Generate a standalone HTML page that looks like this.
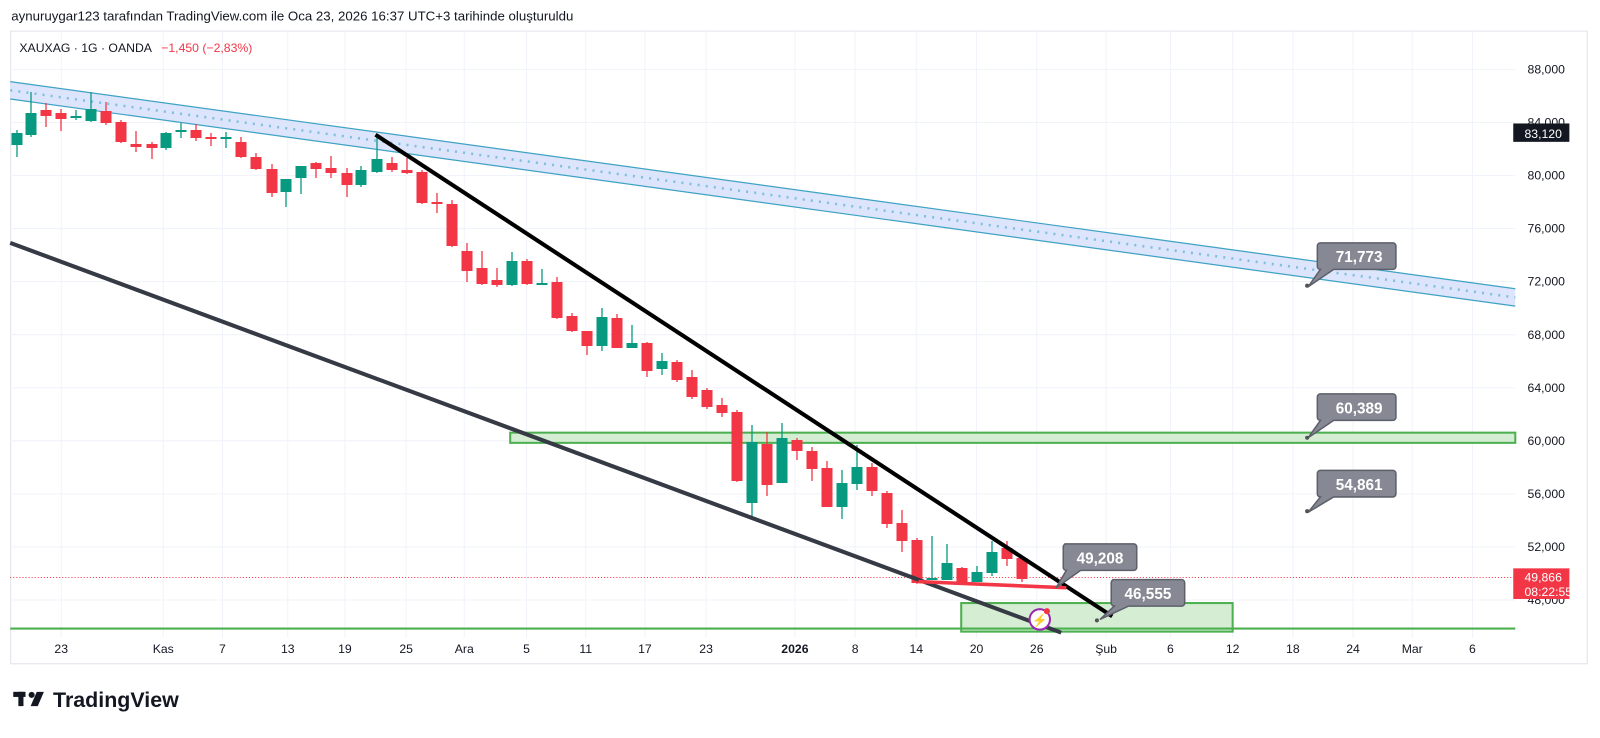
<!DOCTYPE html>
<html><head><meta charset="utf-8"><style>
body{margin:0;background:#fff;width:1600px;height:733px;overflow:hidden;font-family:"Liberation Sans",sans-serif;}
svg text{font-family:"Liberation Sans",sans-serif;}
</style></head><body>
<svg width="1600" height="733" viewBox="0 0 1600 733" xmlns="http://www.w3.org/2000/svg">
<rect width="1600" height="733" fill="#fff"/>
<g transform="scale(1.0204)">
<text x="11" y="20" font-size="13" fill="#131722">aynuruygar123 tarafından TradingView.com ile Oca 23, 2026 16:37 UTC+3 tarihinde oluşturuldu</text>
<rect x="10.5" y="30.5" width="1545" height="620" fill="#fff" stroke="#e0e3eb"/>
<g stroke="#f0f3fa" stroke-width="1">
<line x1="10" y1="68" x2="1485" y2="68"/><line x1="10" y1="120" x2="1485" y2="120"/><line x1="10" y1="172" x2="1485" y2="172"/><line x1="10" y1="224" x2="1485" y2="224"/><line x1="10" y1="276" x2="1485" y2="276"/><line x1="10" y1="328" x2="1485" y2="328"/><line x1="10" y1="380" x2="1485" y2="380"/><line x1="10" y1="432" x2="1485" y2="432"/><line x1="10" y1="484" x2="1485" y2="484"/><line x1="10" y1="536" x2="1485" y2="536"/><line x1="10" y1="588" x2="1485" y2="588"/>
<line x1="60" y1="30" x2="60" y2="625"/><line x1="160" y1="30" x2="160" y2="625"/><line x1="218" y1="30" x2="218" y2="625"/><line x1="282" y1="30" x2="282" y2="625"/><line x1="338" y1="30" x2="338" y2="625"/><line x1="398" y1="30" x2="398" y2="625"/><line x1="455" y1="30" x2="455" y2="625"/><line x1="516" y1="30" x2="516" y2="625"/><line x1="574" y1="30" x2="574" y2="625"/><line x1="632" y1="30" x2="632" y2="625"/><line x1="692" y1="30" x2="692" y2="625"/><line x1="779" y1="30" x2="779" y2="625"/><line x1="838" y1="30" x2="838" y2="625"/><line x1="898" y1="30" x2="898" y2="625"/><line x1="957" y1="30" x2="957" y2="625"/><line x1="1016" y1="30" x2="1016" y2="625"/><line x1="1084" y1="30" x2="1084" y2="625"/><line x1="1147" y1="30" x2="1147" y2="625"/><line x1="1208" y1="30" x2="1208" y2="625"/><line x1="1267" y1="30" x2="1267" y2="625"/><line x1="1326" y1="30" x2="1326" y2="625"/><line x1="1384" y1="30" x2="1384" y2="625"/><line x1="1443" y1="30" x2="1443" y2="625"/>
</g>
<polygon points="10,80 1485,283 1485,300 10,97" fill="#d6e0fa" fill-opacity="0.85"/>
<line x1="10" y1="80" x2="1485" y2="283" stroke="#3fa2c4" stroke-width="1.2"/>
<line x1="10" y1="97" x2="1485" y2="300" stroke="#3fa2c4" stroke-width="1.2"/>
<line x1="10" y1="88.5" x2="1485" y2="291.5" stroke="#7fc0dc" stroke-width="2.5" stroke-dasharray="2,6"/>
<rect x="500" y="424" width="985" height="10" fill="#d5eed3" stroke="#4caf50" stroke-width="2"/>
<rect x="942" y="591" width="266" height="28" fill="#d5eed3" stroke="#4caf50" stroke-width="2"/>
<line x1="10" y1="616" x2="1485" y2="616" stroke="#4caf50" stroke-width="2"/>
<line x1="10" y1="566" x2="1485" y2="566" stroke="#f23645" stroke-width="1" stroke-dasharray="1,2"/>
<g id="candles" transform="scale(0.98)"></g>
<line x1="10" y1="238" x2="1040" y2="620" stroke="#363a45" stroke-width="4"/>
<line x1="368" y1="132" x2="1090" y2="604" stroke="#000" stroke-width="4"/>
<line x1="900" y1="570" x2="1045" y2="576" stroke="#f23645" stroke-width="3.5"/>
<g fill="#868993" stroke="#5d606b" stroke-width="1.5">
<path d="M1297,238 h68 a3,3 0 0 1 3,3 v20 a3,3 0 0 1 -3,3 h-58 l-25,17 l12,-17 h0 a3,3 0 0 1 -3,-3 v-20 a3,3 0 0 1 3,-3z"/>
<path d="M1297,386 h68 a3,3 0 0 1 3,3 v20 a3,3 0 0 1 -3,3 h-58 l-25,17 l12,-17 a3,3 0 0 1 -3,-3 v-20 a3,3 0 0 1 3,-3z"/>
<path d="M1297,461 h68 a3,3 0 0 1 3,3 v20 a3,3 0 0 1 -3,3 h-58 l-25,15 l12,-15 a3,3 0 0 1 -3,-3 v-20 a3,3 0 0 1 3,-3z"/>
<path d="M1043,533 h68 a3,3 0 0 1 3,3 v20 a3,3 0 0 1 -3,3 h-52 l-24,17 l10,-17 a3,3 0 0 1 -3,-3 v-20 a3,3 0 0 1 3,-3z"/>
<path d="M1090,568 h68 a3,3 0 0 1 3,3 v20 a3,3 0 0 1 -3,3 h-52 l-28,13 l14,-13 a3,3 0 0 1 -3,-3 v-20 a3,3 0 0 1 3,-3z"/>
</g>
<g fill="#555"><circle cx="1281" cy="280" r="2"/><circle cx="1281" cy="429" r="2"/><circle cx="1281" cy="501" r="2"/><circle cx="1075" cy="608" r="2"/></g>
<g fill="#fff" font-size="15" font-weight="bold" text-anchor="middle">
<text x="1332" y="257">71,773</text><text x="1332" y="405">60,389</text><text x="1332" y="480">54,861</text><text x="1078" y="552">49,208</text><text x="1125" y="587">46,555</text>
</g>
<circle cx="1019" cy="607" r="10" fill="#fff" stroke="#9c27b0" stroke-width="2"/>
<text x="1019" y="612" font-size="12" fill="#9c27b0" text-anchor="middle">⚡</text>
<circle cx="1026" cy="599" r="3" fill="#f23645"/>
<g font-size="12" fill="#131722">
<text x="1497" y="72">88,000</text><text x="1497" y="124">84,000</text><text x="1497" y="176">80,000</text><text x="1497" y="228">76,000</text><text x="1497" y="280">72,000</text><text x="1497" y="332">68,000</text><text x="1497" y="384">64,000</text><text x="1497" y="436">60,000</text><text x="1497" y="488">56,000</text><text x="1497" y="540">52,000</text><text x="1497" y="592">48,000</text>
</g>
<rect x="1483" y="121" width="55" height="18" fill="#131722"/>
<text x="1494" y="135" font-size="12" fill="#fff">83,120</text>
<rect x="1483" y="557" width="55" height="30" fill="#f23645"/>
<text x="1494" y="570" font-size="12" fill="#fff">49,866</text>
<text x="1494" y="584" font-size="12" fill="#fff">08:22:55</text>
<g font-size="12" fill="#131722" text-anchor="middle">
<text x="60" y="640">23</text><text x="160" y="640">Kas</text><text x="218" y="640">7</text><text x="282" y="640">13</text><text x="338" y="640">19</text><text x="398" y="640">25</text><text x="455" y="640">Ara</text><text x="516" y="640">5</text><text x="574" y="640">11</text><text x="632" y="640">17</text><text x="692" y="640">23</text><text x="779" y="640" font-weight="bold">2026</text><text x="838" y="640">8</text><text x="898" y="640">14</text><text x="957" y="640">20</text><text x="1016" y="640">26</text><text x="1084" y="640">Şub</text><text x="1147" y="640">6</text><text x="1208" y="640">12</text><text x="1267" y="640">18</text><text x="1326" y="640">24</text><text x="1384" y="640">Mar</text><text x="1443" y="640">6</text>
</g>
<text x="19" y="51" font-size="12" fill="#131722">XAUXAG · 1G · OANDA</text>
<text x="158" y="51" font-size="12" fill="#f23645">−1,450 (−2,83%)</text>
<g fill="#131722"><rect x="13" y="678" width="12" height="5"/><rect x="18" y="678" width="5" height="14"/><circle cx="31" cy="681" r="3"/><polygon points="36,678 43,678 37,692 30,692"/></g>
<text x="52" y="693" font-size="21" font-weight="bold" fill="#131722">TradingView</text>
</g>
</svg>
<script>
var d=[[17,'g',133,145,130,157],[31,'g',113,135,92,137],[46,'r',110,116,103,127],[61,'r',113,119,109,131],[76,'g',116,118,110,120],[91,'g',109,121,92,122],[106,'r',111,123,102,125],[121,'r',122,142,120,143],[136,'r',144,147,131,152],[152,'r',144,148,142,159],[166,'g',133,148,132,150],[181,'g',130,131,123,138],[196,'r',130,138,124,141],[211,'r',137,138,133,146],[226,'g',137,138,132,148],[241,'r',142,157,137,158],[256,'r',157,169,153,170],[272,'r',169,193,164,197],[286,'g',179,192,179,207],[301,'g',166,178,166,194],[316,'r',163,169,162,178],[331,'r',168,173,156,178],[347,'r',173,185,168,197],[361,'g',170,185,166,187],[377,'g',159,172,135,173],[392,'r',163,170,157,172],[407,'r',170,173,158,174],[422,'r',172,203,170,204],[437,'r',202,204,193,213],[452,'r',204,246,200,247],[467,'r',251,271,243,282],[482,'r',268,284,251,285],[497,'r',280,285,268,287],[512,'g',261,285,252,286],[527,'r',261,284,259,285],[542,'g',283,284,269,284],[557,'r',282,318,277,319],[572,'r',316,331,313,332],[587,'r',331,346,331,355],[602,'g',317,346,308,351],[617,'r',318,348,314,348],[632,'g',343,348,325,348],[647,'r',343,371,342,377],[662,'g',361,369,353,375],[677,'r',362,380,360,382],[692,'r',377,397,370,399],[707,'r',390,407,388,409],[722,'r',405,413,398,417],[737,'r',412,481,410,482],[752,'g',442,503,425,517],[767,'r',444,485,432,496],[782,'g',438,483,423,483],[797,'r',440,451,438,460],[812,'r',451,469,447,481],[827,'r',468,507,461,507],[842,'g',483,507,470,519],[857,'g',467,484,445,490],[872,'r',467,491,463,496],[887,'r',493,524,491,528],[902,'r',523,541,510,552],[917,'r',540,583,538,584],[932,'g',578,580,536,580],[947,'g',563,580,544,580],[962,'r',568,583,567,583],[977,'g',572,582,566,582],[992,'g',552,573,541,576],[1007,'r',548,559,541,566],[1022,'r',558,579,556,582]];
var g=document.getElementById('candles'),h='';
d.forEach(function(c){var col=c[1]=='g'?'#089981':'#f23645';
h+='<line x1="'+c[0]+'" x2="'+c[0]+'" y1="'+c[4]+'" y2="'+c[5]+'" stroke="'+col+'" stroke-width="1.3"/>';
h+='<rect x="'+(c[0]-5.5)+'" y="'+c[2]+'" width="11" height="'+Math.max(2,c[3]-c[2])+'" fill="'+col+'"/>';});
g.innerHTML=h;
</script>
</body></html>
